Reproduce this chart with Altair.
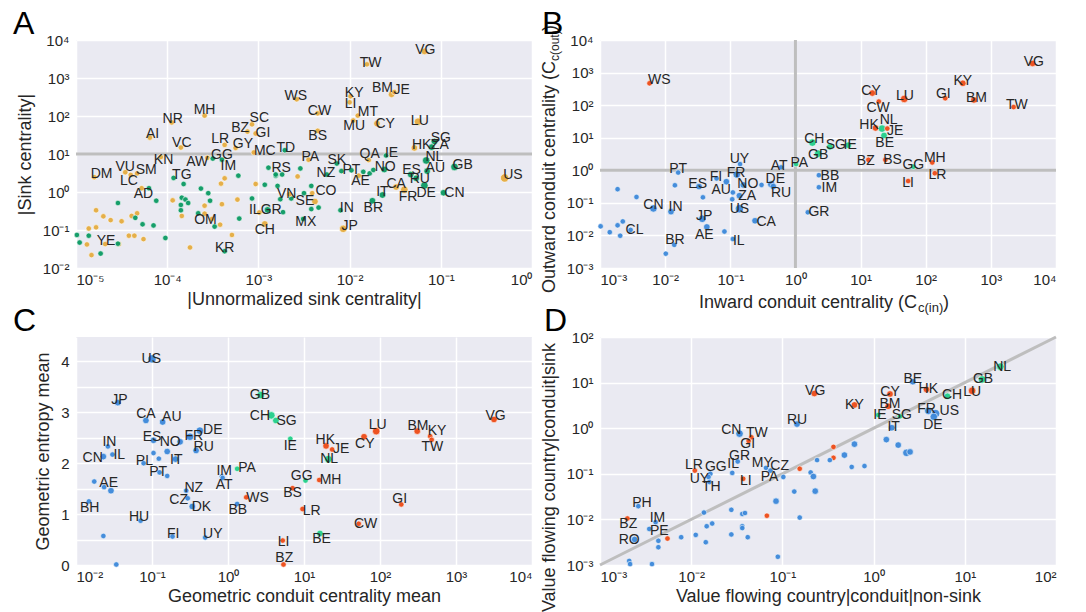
import altair as alt
import pandas as pd

FONT = "Liberation Sans"
BG = "#EAEAF2"
TXT = "#262626"
REF = "#BEBEBE"
SIZES = [30, 70, 170, 430]

# ---------------- Panel A (log10 values) ----------------
a_code = ["WS","MH","NR","SC","BZ","GI","AI","VC","LR","GY","MC","TD","KN","AW","GG","IM","VU","SM","DM","LC","TG","AD","RS","VN","IL","GR","CH","OM","KR","YE",
          "VG","TW","KY","LI","BM","JE","CW","MT","MU","CY","LU","BS","SG","HK","ZA","NL","QA","IE","PA","SK","GB","AU","ES","NO","PT","NZ","AE","US","RU","CA","FR","DE","CN","IT","CO","SE","BR","IN","MX","JP"]
a_x = [-2.58,-3.59,-3.95,-3.07,-3.12,-3.03,-4.19,-3.85,-3.37,-3.25,-3.05,-2.71,-4.07,-3.56,-3.50,-3.40,-4.46,-4.33,-4.80,-4.40,-3.93,-4.28,-2.81,-2.66,-2.99,-2.90,-2.93,-3.51,-3.37,-4.68,
       -1.18,-1.81,-1.99,-2.00,-1.54,-1.51,-2.35,-1.91,-1.96,-1.70,-1.25,-2.35,-1.07,-1.29,-1.10,-1.16,-1.79,-1.60,-2.45,-2.14,-0.85,-1.15,-1.33,-1.62,-1.98,-2.25,-1.90,-0.30,-1.27,-1.49,-1.40,-1.18,-0.97,-1.64,-2.41,-2.38,-1.75,-2.10,-2.51,-2.07]
a_y = [2.44,2.01,1.83,1.78,1.59,1.54,1.43,1.17,1.24,1.16,1.04,1.10,0.92,0.90,0.88,0.85,0.52,0.49,0.39,0.45,0.37,0.10,0.46,-0.06,-0.54,-0.47,-0.84,-0.71,-1.56,-1.37,
       3.70,3.36,2.52,2.36,2.57,2.63,2.07,2.01,1.88,1.80,1.85,1.61,1.33,1.16,1.18,0.83,0.84,0.96,0.85,0.75,0.66,0.55,0.46,0.59,0.57,0.46,0.43,0.37,0.36,0.13,0.06,0.17,-0.02,-0.08,-0.03,-0.25,-0.23,-0.48,-0.71,-0.97]
a_grp = list("GGGGGGGGGGGNGGNNGGGGNGNGGNGGNG") + list("GGGGGGGGGGGGNGNNGNGNNNNNNNGGNGGNNNGGNNNG")
a_sz = [1,1,1,1,1,1,1,1,1,1,1,1,1,1,1,1,1,1,1,1,1,1,1,1,1,2,2,1,1,1,
        2,1,1,1,2,1,1,1,1,2,3,1,2,2,2,3,1,1,1,1,3,2,2,2,1,1,1,4,2,2,3,3,2,2,1,2,2,1,1,3]
a_lx = [-2.59,-3.59,-3.94,-2.99,-3.20,-2.95,-4.16,-3.84,-3.42,-3.17,-2.93,-2.70,-4.04,-3.67,-3.40,-3.33,-4.46,-4.23,-4.72,-4.42,-3.84,-4.26,-2.75,-2.69,-3.04,-2.86,-2.93,-3.58,-3.37,-4.67,
        -1.17,-1.77,-1.95,-1.99,-1.64,-1.43,-2.33,-1.80,-1.95,-1.61,-1.23,-2.35,-1.00,-1.21,-1.01,-1.07,-1.78,-1.54,-2.43,-2.14,-0.76,-1.06,-1.32,-1.61,-1.98,-2.26,-1.88,-0.21,-1.23,-1.49,-1.36,-1.16,-0.85,-1.64,-2.26,-2.49,-1.74,-2.03,-2.48,-2.00]
a_ly = [2.53,2.15,1.92,1.96,1.68,1.54,1.53,1.30,1.40,1.26,1.09,1.17,0.83,0.79,0.97,0.69,0.67,0.57,0.48,0.29,0.46,-0.06,0.62,-0.04,-0.47,-0.47,-1.00,-0.73,-1.47,-1.28,
        3.75,3.40,2.60,2.32,2.73,2.68,2.13,2.10,1.74,1.79,1.88,1.48,1.43,1.24,1.24,0.91,1.01,1.03,0.91,0.83,0.72,0.63,0.57,0.66,0.57,0.49,0.29,0.46,0.33,0.22,-0.13,-0.02,-0.02,0.01,0.03,-0.23,-0.41,-0.41,-0.80,-0.89]
a_gold_x = [-4.78,-4.70,-4.62,-4.50,-4.39,-4.33,-4.86,-4.78,-4.42,-4.36,-4.26,-4.88,-4.83,-4.53,-3.75,-3.94,-3.84,-3.59,-3.59,-3.41,-3.37,-3.40,-3.42,-3.29,-3.23,-3.03,-2.57]
a_gold_y = [-0.48,-0.64,-0.74,-0.77,-0.63,-0.56,-0.96,-0.93,-1.15,-1.15,-1.24,-1.38,-1.66,-1.37,-1.46,-0.22,-0.63,-0.36,-0.57,0.22,0.36,-0.32,-0.86,-1.13,-0.20,0.21,0.41]
a_green_x = [-4.99,-4.96,-4.86,-4.73,-4.54,-4.35,-4.27,-4.15,-4.12,-4.02,-4.54,-4.20,-3.82,-3.84,-3.80,-3.77,-3.63,-3.55,-3.53,-3.66,-3.85,-3.85,-3.48,-3.21,-3.22,-3.07,-2.93,-2.89,-2.81,-2.79,-2.74,-2.76,-2.73,-2.64,-2.54,-2.42,-2.50,-2.42,-2.34,-2.09,-1.85,-1.78,-1.74]
a_green_y = [-1.13,-1.33,-1.15,-1.62,-1.36,-0.68,-0.85,-0.88,-0.23,-1.21,-0.29,0.10,0.21,-0.15,-0.20,-0.29,0.09,-0.03,-0.23,-0.56,-0.34,-0.48,-0.91,-0.70,0.43,-0.17,0.19,0.64,0.43,0.16,0.46,-0.19,-0.53,-0.17,0.62,0.16,-0.03,-0.45,-0.41,0.55,0.53,0.49,0.58]

# ---------------- Panel B (log10 values) ----------------
b_code = ["WS","PT","UY","FI","FR","ES","AU","NO","DE","RU","AT","PA","ZA","US","CN","IN","JP","AE","CA","CL","BR","IL","GR","VG","KY","CY","LU","GI","BM","TW","CW","HK","NL","JE","BE","CH","SG","IE","GB","BZ","BS","MH","GG","LR","LI","BB","IM"]
b_x = [-2.24,-1.80,-0.85,-1.21,-0.90,-1.48,-1.06,-0.80,-0.37,-0.34,-0.22,0.01,-0.86,-0.86,-2.18,-1.91,-1.43,-1.36,-0.62,-2.53,-1.86,-0.96,0.19,3.64,2.57,1.18,1.67,2.30,2.74,3.35,1.28,1.23,1.33,1.41,1.36,0.26,0.53,0.81,0.35,1.12,1.38,2.10,1.81,2.14,1.73,0.36,0.36]
b_y = [2.67,-0.07,0.19,-0.25,-0.13,-0.50,-0.35,-0.45,-0.43,-0.50,0.09,0.19,-0.78,-1.18,-1.17,-1.27,-1.49,-1.74,-1.55,-1.83,-2.29,-2.11,-1.29,3.28,2.67,2.37,2.19,2.21,2.16,1.94,2.11,1.30,1.28,1.28,1.07,0.85,0.72,0.77,0.51,0.32,0.32,0.24,0.11,-0.09,-0.33,-0.15,-0.52]
b_grp = list("RBBBBBBBBBBLBBBBBBBBBBBRRRRRRRRRLRLLLLLRRRLRRBB")
b_sz = [1,1,1,1,3,2,2,2,3,2,1,1,2,4,3,2,3,2,2,1,1,1,1,2,2,2,3,1,2,1,1,2,3,1,2,3,2,2,3,1,1,1,1,1,1,1,1]
b_lx = [-2.09,-1.80,-0.86,-1.22,-0.91,-1.50,-1.14,-0.73,-0.31,-0.22,-0.25,0.06,-0.74,-0.86,-2.18,-1.84,-1.40,-1.40,-0.45,-2.47,-1.85,-0.87,0.36,3.66,2.57,1.16,1.68,2.27,2.78,3.40,1.27,1.13,1.43,1.53,1.37,0.29,0.62,0.84,0.35,1.08,1.49,2.14,1.81,2.18,1.73,0.53,0.52]
b_ly = [2.77,0.03,0.34,-0.20,-0.07,-0.43,-0.60,-0.43,-0.27,-0.71,0.14,0.22,-0.78,-1.19,-1.06,-1.14,-1.40,-1.98,-1.59,-1.83,-2.15,-2.16,-1.28,3.33,2.74,2.44,2.27,2.33,2.22,2.01,1.91,1.38,1.55,1.20,0.85,0.97,0.77,0.77,0.46,0.29,0.32,0.39,0.16,-0.13,-0.38,-0.17,-0.55]
b_other_x = [-2.73,-2.44,-2.99,-2.85,-2.73,-2.65,-2.69,-1.99,-1.85,-1.42,-1.09,-0.96,-0.97,-0.52]
b_other_y = [-0.58,-0.82,-1.72,-1.90,-1.69,-1.57,-2.01,-2.56,-0.46,-0.83,-1.88,-0.68,-0.89,-0.45]

# ---------------- Panel C (x log10, y linear) ----------------
c_code = ["US","JP","CA","AU","DE","ES","NO","FR","RU","IN","CN","IL","PL","IT","PT","AE","BH","NZ","CZ","DK","HU","FI","UY","IM","AT","PA","WS","BB","GB","CH","SG","IE","HK","JE","NL","CY","LU","BM","KY","TW","VG","GG","MH","BS","GI","LR","CW","BE","LI","BZ"]
c_x = [-1.00,-1.45,-1.08,-0.86,-0.37,-0.98,-0.63,-0.50,-0.42,-1.58,-1.64,-1.52,-1.11,-0.69,-0.90,-1.63,-1.83,-0.55,-0.53,-0.47,-1.15,-0.73,-0.30,-0.08,-0.07,0.12,0.24,0.12,0.43,0.57,0.63,0.82,1.29,1.37,1.32,1.79,1.95,2.49,2.66,2.68,3.50,1.02,1.20,0.85,2.28,0.98,1.72,1.21,0.72,0.73]
c_y = [4.05,3.19,2.84,2.81,2.64,2.45,2.42,2.52,2.25,2.33,2.13,2.17,2.00,2.08,1.82,1.53,1.25,1.46,1.31,1.15,0.87,0.56,0.54,1.74,1.71,1.89,1.33,1.20,3.34,2.94,2.84,2.48,2.34,2.27,2.08,2.52,2.63,2.63,2.53,2.46,2.86,1.66,1.67,1.51,1.19,1.10,0.81,0.62,0.48,0.01]
c_grp = list("BBBBBBBBBBBBBBBBBBBBBBBBBLRBLLLLRRLRRRRRRLRRRRRLRR")
c_sz = [4,2,2,2,3,2,2,3,2,1,2,1,1,2,1,1,1,1,1,2,1,1,1,1,1,1,1,1,3,3,2,1,2,1,3,2,3,2,1,1,2,1,1,1,1,1,1,2,1,1]
c_lx = [-1.01,-1.43,-1.08,-0.74,-0.20,-1.00,-0.76,-0.45,-0.32,-1.56,-1.78,-1.43,-1.10,-0.68,-0.92,-1.57,-1.82,-0.45,-0.65,-0.35,-1.17,-0.72,-0.20,-0.05,-0.05,0.25,0.39,0.13,0.42,0.42,0.77,0.82,1.28,1.49,1.33,1.80,1.97,2.50,2.75,2.69,3.52,0.97,1.35,0.85,2.26,1.10,1.81,1.23,0.73,0.74]
c_ly = [4.05,3.25,2.97,2.91,2.66,2.52,2.42,2.53,2.32,2.41,2.11,2.17,2.04,2.07,1.82,1.62,1.12,1.51,1.28,1.14,0.94,0.61,0.60,1.84,1.58,1.90,1.31,1.08,3.34,2.92,2.82,2.34,2.45,2.27,2.08,2.38,2.76,2.74,2.63,2.31,2.92,1.75,1.67,1.41,1.29,1.06,0.81,0.51,0.46,0.13]
c_other_x = [-0.80,-0.98,-0.91,-0.80,-1.54,-1.76,-1.64,-1.47]
c_other_y = [2.23,2.20,2.09,1.75,1.46,1.64,0.57,0.01]
c_other_sz = [2,1,1,1,2,1,1,1]

# ---------------- Panel D (log10 values) ----------------
d_code = ["VG","RU","CN","TW","GI","GR","MY","CZ","PA","LR","GG","UY","TH","IL","LI","PH","BZ","IM","PE","RO","NL","GB","LU","CH","BE","HK","CY","BM","KY","IE","SG","FR","US","DE","IT"]
d_x = [-0.65,-0.84,-1.47,-1.34,-1.37,-1.49,-1.18,-1.13,-0.99,-1.96,-1.79,-1.81,-1.80,-1.55,-1.43,-2.58,-2.70,-2.39,-2.36,-2.62,1.39,1.19,1.08,0.81,0.43,0.58,0.18,0.16,-0.21,0.05,0.29,0.60,0.68,0.66,0.20]
d_y = [0.76,0.09,-0.12,-0.20,-0.28,-0.73,-0.87,-0.93,-1.07,-0.93,-1.00,-1.07,-1.18,-0.98,-1.11,-1.71,-1.98,-2.06,-2.47,-2.44,1.35,1.07,0.82,0.70,1.02,0.85,0.75,0.48,0.51,0.29,0.26,0.38,0.32,0.25,0.01]
d_grp = list("RBBRRBBBBRBBBBRBRBBBLLRLBRRRRLLBBBB")
d_sz = [2,2,3,1,1,1,1,1,1,1,1,1,1,1,1,1,1,1,1,2,3,3,3,2,2,2,2,2,2,1,1,3,4,3,2]
d_lx = [-0.64,-0.84,-1.56,-1.28,-1.38,-1.47,-1.22,-1.03,-1.14,-1.97,-1.73,-1.91,-1.78,-1.54,-1.40,-2.54,-2.69,-2.37,-2.35,-2.68,1.41,1.20,1.08,0.86,0.43,0.60,0.18,0.18,-0.21,0.07,0.31,0.58,0.83,0.65,0.22]
d_ly = [0.82,0.18,-0.03,-0.10,-0.34,-0.60,-0.76,-0.82,-1.07,-0.81,-0.85,-1.12,-1.29,-0.78,-1.15,-1.64,-2.11,-1.98,-2.25,-2.45,1.35,1.07,0.80,0.73,1.08,0.85,0.80,0.54,0.51,0.30,0.29,0.42,0.37,0.08,0.03]
d_other_x = [-2.46,-2.26,-2.11,-1.95,-1.84,-1.83,-1.77,-1.86,-1.56,-1.44,-1.41,-1.44,-1.44,-1.38,-1.56,-1.17,-1.07,-1.05,-0.87,-0.81,-0.81,-0.69,-0.66,-0.64,-0.62,-2.68,-2.67,-2.43,-2.36,0.14,0.27,0.36,0.40,-0.21,-0.32,-0.24,-0.10,-0.44,-0.44,-0.48]
d_other_y = [-2.21,-2.42,-2.39,-2.34,-2.50,-2.15,-2.09,-1.85,-1.79,-1.88,-1.86,-2.15,-2.19,-2.39,-2.33,-1.92,-1.60,-2.82,-1.39,-1.96,-0.89,-0.97,-1.06,-1.38,-0.70,-2.91,-2.98,-2.98,-2.61,-0.25,-0.37,-0.54,-0.52,-0.35,-0.59,-0.85,-0.83,-0.41,-0.65,-0.70]
d_other_grp = list("BRBBBBBBBBBBBBBRBBBBRBBBBBBBBBBBBBBBBRRB")
d_other_sz = [1,1,1,1,1,1,1,1,1,1,1,1,1,1,1,1,2,1,1,1,1,1,2,2,1,1,1,1,1,2,2,3,2,2,2,1,1,1,1,1]
d_line = [-3, 2]

# ---------------- tick labels & titles ----------------
a_xticks = [-5, -4, -3, -2, -1, 0]
a_yticks = [-2, -1, 0, 1, 2, 3, 4]
b_ticks = [-3, -2, -1, 0, 1, 2, 3, 4]
c_xticks = [-2, -1, 0, 1, 2, 3, 4]
c_yticks = [0, 0.5, 1, 1.5, 2, 2.5, 3, 3.5, 4]
d_ticks = [-3, -2, -1, 0, 1, 2]
a_xtitle = "|Unnormalized sink centrality|"
a_ytitle = "|Sink centrality|"
b_xtitle = ["Inward conduit centrality (C", "c(in)", ")"]
b_ytitle = ["Outward conduit centrality (C", "c(out)", ")"]
c_xtitle = "Geometric conduit centrality mean"
c_ytitle = "Geometric entropy mean"
d_xtitle = "Value flowing country|conduit|non-sink"
d_ytitle = "Value flowing country|conduit|sink"
letters = ["A", "B", "C", "D"]

for lst in (a_x, a_y, a_grp, a_sz, a_lx, a_ly):
    assert len(lst) == len(a_code)
for lst in (b_x, b_y, b_grp, b_sz, b_lx, b_ly):
    assert len(lst) == len(b_code)
for lst in (c_x, c_y, c_grp, c_sz, c_lx, c_ly):
    assert len(lst) == len(c_code)
for lst in (d_x, d_y, d_grp, d_sz, d_lx, d_ly):
    assert len(lst) == len(d_code)

SUPMAP = {"-": "\u207b", "0": "\u2070", "1": "\u00b9", "2": "\u00b2", "3": "\u00b3",
          "4": "\u2074", "5": "\u2075"}


def p10(v):
    return 10.0 ** v


def log_axis(exps, title, **kw):
    expr = "''"
    for e in exps:
        lab = "10" + "".join(SUPMAP[ch] for ch in str(e))
        expr = f"(round(log(datum.value)/LN10) == {e}) ? '{lab}' : ({expr})"
    return alt.Axis(values=[p10(e) for e in exps], labelExpr=expr, title=title, **kw)


PAL_A = {"G": "#E5AC40", "N": "#0B9A63"}
PAL = {"B": "#3D89DA", "R": "#EE4B17", "L": "#22CF8A"}


def pts_df(xs, ys, grp, sz, xlog=True, ylog=True):
    return pd.DataFrame({
        "x": [p10(v) if xlog else v for v in xs],
        "y": [p10(v) if ylog else v for v in ys],
        "grp": grp, "sz": sz})


def lab_df(codes, xs, ys, xlog=True, ylog=True):
    return pd.DataFrame({
        "x": [p10(v) if xlog else v for v in xs],
        "y": [p10(v) if ylog else v for v in ys],
        "code": codes})


dummy = pd.DataFrame({"k": [0]})


def panel(points, labels, xsc, ysc, xax, yax, pal, letter, letter_x, extra=None, front=None):
    enc_x = alt.X("x:Q", scale=xsc, axis=xax)
    enc_y = alt.Y("y:Q", scale=ysc, axis=yax)
    layers = list(extra or [])
    layers.append(alt.Chart(points).mark_circle(opacity=0.95, stroke="white", strokeWidth=0.6).encode(
        x=enc_x, y=enc_y,
        color=alt.Color("grp:N", scale=alt.Scale(domain=list(pal.keys()), range=list(pal.values())), legend=None),
        size=alt.Size("sz:O", scale=alt.Scale(domain=[1, 2, 3, 4], range=SIZES), legend=None),
    ))
    layers.append(alt.Chart(labels).mark_text(font=FONT, fontSize=14, color=TXT, align="center",
                                             baseline="middle").encode(x=enc_x, y=enc_y, text="code:N"))
    layers += list(front or [])
    layers.append(alt.Chart(dummy).mark_text(text=letter, font=FONT, fontSize=32, color="black",
                                             align="left", baseline="bottom").encode(
        x=alt.value(letter_x), y=alt.value(1)))
    return alt.layer(*layers).properties(width=456, height=228)


# ---- A ----
a_pts = pd.concat([
    pts_df(a_gold_x, a_gold_y, ["G"] * len(a_gold_x), [1] * len(a_gold_x)),
    pts_df(a_green_x, a_green_y, ["N"] * len(a_green_x), [1] * len(a_green_x)),
    pts_df(a_x, a_y, a_grp, a_sz)], ignore_index=True)
a_xs = alt.Scale(type="log", domain=[p10(-5), p10(0)], nice=False)
a_ys = alt.Scale(type="log", domain=[p10(-2), p10(4)], nice=False)
a_xax = log_axis(a_xticks, a_xtitle)
a_yax = log_axis(a_yticks, a_ytitle)
a_rule = alt.Chart(pd.DataFrame({"y": [10.0]})).mark_rule(color=REF, strokeWidth=3).encode(
    y=alt.Y("y:Q", scale=a_ys, axis=a_yax))
A = panel(a_pts, lab_df(a_code, a_lx, a_ly), a_xs, a_ys, a_xax, a_yax, PAL_A, letters[0], -63, extra=[a_rule])

# ---- B ----
b_pts = pd.concat([
    pts_df(b_other_x, b_other_y, ["B"] * len(b_other_x), [1] * len(b_other_x)),
    pts_df(b_x, b_y, b_grp, b_sz)], ignore_index=True)
b_xs = alt.Scale(type="log", domain=[p10(-3), p10(4)], nice=False)
b_ys = alt.Scale(type="log", domain=[p10(-3), p10(4)], nice=False)
b_xax = log_axis(b_ticks, None)
b_yax = log_axis(b_ticks, None)
one = pd.DataFrame({"v": [1.0]})
b_h = alt.Chart(one).mark_rule(color=REF, strokeWidth=3).encode(y=alt.Y("v:Q", scale=b_ys, axis=b_yax))
b_v = alt.Chart(one).mark_rule(color=REF, strokeWidth=3).encode(x=alt.X("v:Q", scale=b_xs, axis=b_xax))
tkw = dict(font=FONT, color=TXT, baseline="middle")
b_titles = [
    alt.Chart(dummy).mark_text(text=b_xtitle[0], fontSize=18, align="right", **tkw).encode(x=alt.value(317), y=alt.value(263)),
    alt.Chart(dummy).mark_text(text=b_xtitle[1], fontSize=13, align="left", **tkw).encode(x=alt.value(318), y=alt.value(268)),
    alt.Chart(dummy).mark_text(text=b_xtitle[2], fontSize=18, align="left", **tkw).encode(x=alt.value(343), y=alt.value(263)),
    alt.Chart(dummy).mark_text(text=b_ytitle[0], fontSize=18, align="right", angle=270, **tkw).encode(x=alt.value(-50), y=alt.value(21)),
    alt.Chart(dummy).mark_text(text=b_ytitle[1], fontSize=12, align="left", angle=270, **tkw).encode(x=alt.value(-45), y=alt.value(21)),
    alt.Chart(dummy).mark_text(text=b_ytitle[2], fontSize=18, align="left", angle=270, **tkw).encode(x=alt.value(-50), y=alt.value(-9)),
]
B = panel(b_pts, lab_df(b_code, b_lx, b_ly), b_xs, b_ys, b_xax, b_yax, PAL, letters[1], -58,
          extra=[b_h, b_v], front=b_titles)

# ---- C ----
c_pts = pd.concat([
    pts_df(c_other_x, c_other_y, ["B"] * len(c_other_x), c_other_sz, ylog=False),
    pts_df(c_x, c_y, c_grp, c_sz, ylog=False)], ignore_index=True)
c_xs = alt.Scale(type="log", domain=[p10(-2), p10(4)], nice=False)
c_ys = alt.Scale(type="linear", domain=[0, 4.48], nice=False, zero=False)
c_xax = log_axis(c_xticks, c_xtitle)
c_yax = alt.Axis(values=c_yticks, labelExpr="datum.value % 1 == 0 ? format(datum.value, 'd') : ''", title=c_ytitle)
C = panel(c_pts, lab_df(c_code, c_lx, c_ly, ylog=False), c_xs, c_ys, c_xax, c_yax, PAL, letters[2], -63)

# ---- D ----
d_pts = pd.concat([
    pts_df(d_other_x, d_other_y, d_other_grp, d_other_sz),
    pts_df(d_x, d_y, d_grp, d_sz)], ignore_index=True)
d_xs = alt.Scale(type="log", domain=[p10(-3), p10(2)], nice=False)
d_ys = alt.Scale(type="log", domain=[p10(-3), p10(2)], nice=False)
d_xax = log_axis(d_ticks, d_xtitle)
d_yax = log_axis(d_ticks, d_ytitle, titleY=140)
d_ln = alt.Chart(pd.DataFrame({"x": [p10(v) for v in d_line], "y": [p10(v) for v in d_line]})).mark_line(
    color=REF, strokeWidth=3).encode(x=alt.X("x:Q", scale=d_xs, axis=d_xax), y=alt.Y("y:Q", scale=d_ys, axis=d_yax))
D = panel(d_pts, lab_df(d_code, d_lx, d_ly), d_xs, d_ys, d_xax, d_yax, PAL, letters[3], -56, extra=[d_ln])

chart = alt.concat(A, B, C, D, columns=2, spacing={"row": -10, "column": 6}).resolve_scale(
    color="independent", size="independent"
).properties(
    padding={"left": 5, "top": 0, "right": 5, "bottom": 0}
).configure_view(
    fill=BG, strokeWidth=0
).configure_axis(
    domain=False, ticks=False, grid=True, gridColor="white", gridWidth=1.5,
    labelFont=FONT, labelFontSize=15, labelColor=TXT,
    titleFont=FONT, titleFontSize=18, titleFontWeight="normal", titleColor=TXT,
).configure_axisX(labelPadding=4, titlePadding=3).configure_axisY(labelPadding=7, titlePadding=8)

chart.save("out.html", embed_options={"renderer": "svg", "actions": False})
